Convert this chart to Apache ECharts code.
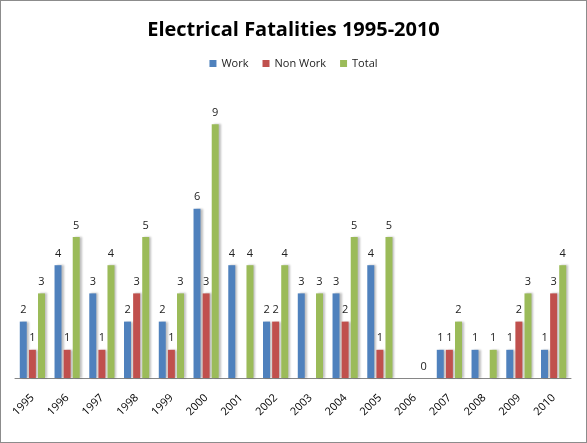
<!DOCTYPE html>
<html><head><meta charset="utf-8">
<script src="https://cdn.jsdelivr.net/npm/echarts@6/dist/echarts.min.js"></script>
<style>
html,body{margin:0;padding:0;background:#fff;}
#c{width:587px;height:443px;box-sizing:border-box;border:1px solid #8c8c8c;}
</style></head>
<body><div id="c"></div>
<script>
const categories = ['1995','1996','1997','1998','1999','2000','2001','2002','2003','2004','2005','2006','2007','2008','2009','2010'];
const work    = [2,4,3,2,2,6,4,2,3,3,4,null,1,1,1,1];
const nonWork = [1,1,1,3,1,3,null,2,null,2,1,null,1,null,2,3];
const total   = [3,5,4,5,3,9,4,4,3,5,5,0,2,1,3,4];

const chart = echarts.init(document.getElementById('c'));
const font = 'Open Sans, sans-serif';
function s(name, data, color){
  return {name, type:'bar', data, barWidth:7, barGap:'30%',
    itemStyle:{color, shadowColor:'rgba(0,0,0,0.25)', shadowOffsetX:2, shadowOffsetY:0, shadowBlur:2},
    label:{show:true, position:'top', color:'#222', fontSize:11, fontFamily:font, distance:6}};
}
chart.setOption({
  animation:false,
  title:{text:'Electrical Fatalities 1995-2010', left:'center', top:14,
    textStyle:{fontFamily:font, fontSize:20, fontWeight:'bold', color:'#000'}},
  legend:{top:52, left:'center', itemWidth:7, itemHeight:7, itemGap:14, icon:'rect',
    textStyle:{fontFamily:font, fontSize:11, color:'#222'}},
  grid:{left:14, right:15, top:95, bottom:64, containLabel:false},
  xAxis:{type:'category', data:categories,
    axisLine:{lineStyle:{color:'#868686'}}, axisTick:{show:false},
    axisLabel:{rotate:45, fontFamily:font, fontSize:11, color:'#000', margin:18, interval:0}},
  yAxis:{type:'value', min:0, max:10, show:false, splitLine:{show:false}},
  series:[s('Work',work,'#4F81BD'), s('Non Work',nonWork,'#C0504D'), s('Total',total,'#9BBB59')]
});
</script></body></html>
